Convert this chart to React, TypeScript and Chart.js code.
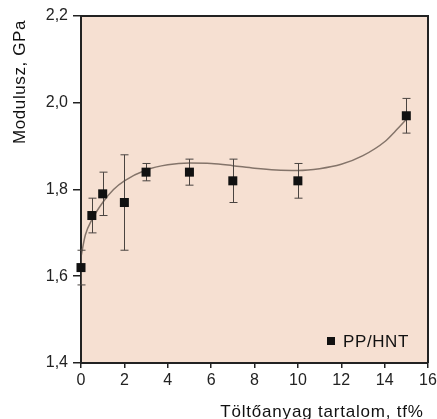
import React, { useEffect, useRef } from "react";
import { Chart, registerables } from "chart.js";

Chart.register(...registerables);

const xValues = [0, 0.5, 1, 2, 3, 5, 7, 10, 15];
const yValues = [1.62, 1.74, 1.79, 1.77, 1.84, 1.84, 1.82, 1.82, 1.97];
const yErrors = [0.04, 0.04, 0.05, 0.11, 0.02, 0.03, 0.05, 0.04, 0.04];

const fitX = [0, 0.2, 0.5, 1, 1.5, 2, 3, 4, 5, 6, 7, 8, 9, 10, 11, 12, 13, 14, 14.5, 15];
const fitY = [1.645, 1.695, 1.73, 1.77, 1.80, 1.82, 1.845, 1.857, 1.861, 1.86, 1.855, 1.849, 1.845, 1.844, 1.848, 1.858, 1.878, 1.91, 1.935, 1.962];

const seriesLabel = "PP/HNT";
const xTitle = "Töltőanyag tartalom, tf%";
const yTitle = "Modulusz, GPa";

const FONT = "'Liberation Sans', Arial, sans-serif";
const AXIS = "#222222";

const decorPlugin = {
  id: "decor",
  beforeDraw(chart: any) {
    const { ctx, chartArea: a } = chart;
    ctx.save();
    ctx.fillStyle = "#ffffff";
    ctx.fillRect(0, 0, chart.width, chart.height);
    ctx.fillStyle = "#f6e0d2";
    ctx.fillRect(a.left, a.top, a.right - a.left, a.bottom - a.top);
    ctx.restore();
  },
  afterDatasetsDraw(chart: any) {
    const { ctx, scales } = chart;
    const xs = scales.x;
    const ys = scales.y;
    ctx.save();
    ctx.strokeStyle = "#4a4440";
    ctx.lineWidth = 1;
    for (let i = 0; i < xValues.length; i++) {
      const px = Math.round(xs.getPixelForValue(xValues[i])) + 0.5;
      const pTop = ys.getPixelForValue(yValues[i] + yErrors[i]);
      const pBot = ys.getPixelForValue(yValues[i] - yErrors[i]);
      ctx.beginPath();
      ctx.moveTo(px, pTop);
      ctx.lineTo(px, pBot);
      ctx.moveTo(px - 4, pTop);
      ctx.lineTo(px + 4, pTop);
      ctx.moveTo(px - 4, pBot);
      ctx.lineTo(px + 4, pBot);
      ctx.stroke();
    }
    ctx.fillStyle = "#111111";
    for (let i = 0; i < xValues.length; i++) {
      const px = xs.getPixelForValue(xValues[i]);
      const py = ys.getPixelForValue(yValues[i]);
      ctx.fillRect(px - 4.5, py - 4.5, 9, 9);
    }
    ctx.restore();
  },
  afterDraw(chart: any) {
    const { ctx, chartArea: a } = chart;
    ctx.save();
    ctx.strokeStyle = AXIS;
    ctx.lineWidth = 2;
    ctx.beginPath();
    ctx.moveTo(a.left, a.top);
    ctx.lineTo(a.right, a.top);
    ctx.lineTo(a.right, a.bottom);
    ctx.stroke();
    // legend
    ctx.fillStyle = "#111111";
    ctx.fillRect(a.right - 101, a.bottom - 26, 8, 8);
    ctx.font = `17px ${FONT}`;
    ctx.textBaseline = "middle";
    ctx.textAlign = "left";
    (ctx as any).letterSpacing = "0.6px";
    ctx.fillText(seriesLabel, a.right - 85, a.bottom - 21);
    // axis titles
    ctx.textAlign = "center";
    (ctx as any).letterSpacing = "0.8px";
    ctx.fillText(xTitle, 322, 412);
    (ctx as any).letterSpacing = "0.6px";
    ctx.translate(20, 82);
    ctx.rotate(-Math.PI / 2);
    ctx.fillText(yTitle, 0, 0);
    ctx.restore();
  },
};

export default function App() {
  const ref = useRef<HTMLCanvasElement | null>(null);
  useEffect(() => {
    if (!ref.current) return;
    const chart = new Chart(ref.current, {
      type: "scatter",
      data: {
        datasets: [
          {
            label: "fit",
            data: fitX.map((x, i) => ({ x, y: fitY[i] })),
            showLine: true,
            borderColor: "#84746a",
            borderWidth: 1.5,
            pointRadius: 0,
            cubicInterpolationMode: "monotone",
            fill: false,
          } as any,
        ],
      },
      options: {
        animation: false,
        responsive: false,
        maintainAspectRatio: false,
        layout: { padding: { left: 0, top: 16, right: 9, bottom: 0 } },
        plugins: { legend: { display: false }, tooltip: { enabled: false } },
        scales: {
          x: {
            type: "linear",
            min: 0,
            max: 16,
            afterFit: (s: any) => {
              s.height = 56;
              s.paddingRight = 0;
              s.paddingLeft = 0;
            },
            ticks: {
              stepSize: 2,
              color: AXIS,
              padding: 3,
              font: { family: FONT, size: 16 },
            },
            grid: { drawOnChartArea: false, drawTicks: true, tickLength: 5, color: AXIS, lineWidth: 1.5 },
            border: { display: true, color: AXIS, width: 2 },
          },
          y: {
            type: "linear",
            min: 1.4,
            max: 2.2,
            afterFit: (s: any) => {
              s.width = 81;
              s.paddingTop = 0;
              s.paddingBottom = 0;
            },
            ticks: {
              stepSize: 0.2,
              color: AXIS,
              padding: 5,
              font: { family: FONT, size: 16 },
              callback: (v: any) => Number(v).toFixed(1).replace(".", ","),
            },
            grid: { drawOnChartArea: false, drawTicks: true, tickLength: 8, color: AXIS, lineWidth: 1.5 },
            border: { display: true, color: AXIS, width: 2 },
          },
        },
      },
      plugins: [decorPlugin],
    });
    return () => chart.destroy();
  }, []);
  return (
    <div style={{ position: "fixed", left: 0, top: 0, width: 437, height: 419 }}>
      <canvas ref={ref} width={437} height={419} style={{ width: 437, height: 419 }} />
    </div>
  );
}
